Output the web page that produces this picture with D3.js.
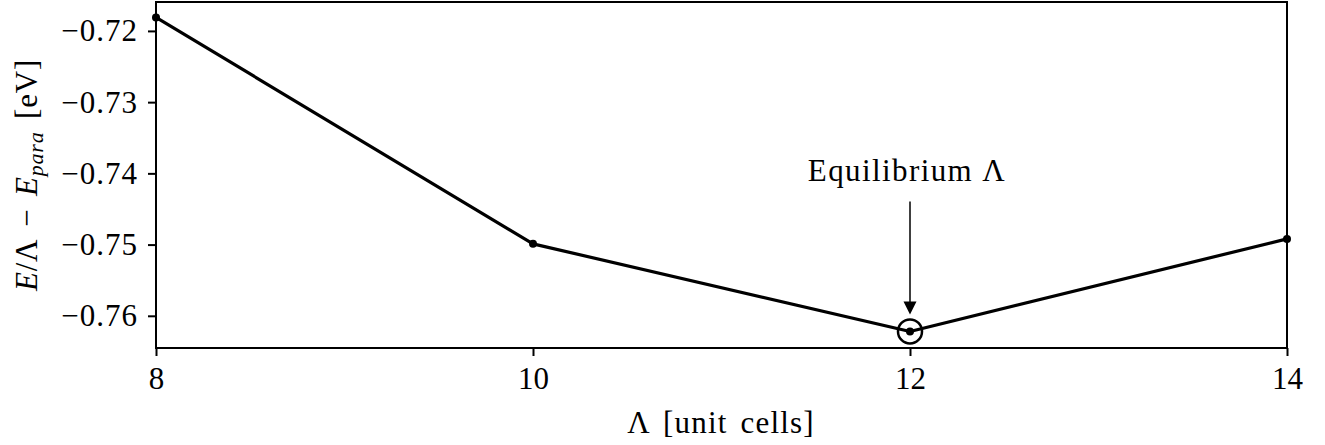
<!DOCTYPE html>
<html>
<head>
<meta charset="utf-8">
<script src="https://cdn.jsdelivr.net/npm/d3@7"></script>
</head>
<body style="margin:0; background:#fff">
<div id="chart-area"></div>
<script>
const width = 1325, height = 445;
const margin = ({top: 2, right: 38, bottom: 97, left: 156});
const serif = "Liberation Serif";

// data
const cells = [8, 10, 12, 14];
const energy = [-0.7181, -0.7499, -0.7622, -0.7492];
const xTicks = [8, 10, 12, 14];
const yTicks = [-0.72, -0.73, -0.74, -0.75, -0.76];
const yDomain = [-0.76452, -0.71594];
const equilibrium = 12;

const x = d3.scaleLinear()
    .domain([8, 14])
    .range([margin.left, width - margin.right]);

const y = d3.scaleLinear()
    .domain(yDomain)
    .range([height - margin.bottom, margin.top]);

const fmt = d => (d < 0 ? "\u2212" : "") + d3.format(".2f")(Math.abs(d));

const svg = d3.select("#chart-area").append("svg")
    .attr("width", width)
    .attr("height", height);

const xAxis = g => g
    .attr("transform", `translate(0,${height - margin.bottom})`)
    .call(d3.axisBottom(x).tickValues(xTicks).tickSize(8).tickPadding(11).tickFormat(d3.format("d")))
    .call(g => g.select(".domain").remove())
    .call(g => g.selectAll(".tick line").attr("stroke-width", 2))
    .call(g => g.selectAll(".tick text")
        .attr("font-family", serif)
        .attr("font-size", 31));

const yAxis = g => g
    .attr("transform", `translate(${margin.left},0)`)
    .call(d3.axisLeft(y).tickValues(yTicks).tickSize(8).tickPadding(10).tickFormat(fmt))
    .call(g => g.select(".domain").remove())
    .call(g => g.selectAll(".tick line").attr("stroke-width", 2))
    .call(g => g.selectAll(".tick text")
        .attr("font-family", serif)
        .attr("font-size", 31)
        .attr("letter-spacing", 1));

svg.append("g").call(xAxis);
svg.append("g").call(yAxis);

// frame
svg.append("rect")
    .attr("x", margin.left)
    .attr("y", margin.top)
    .attr("width", width - margin.left - margin.right)
    .attr("height", height - margin.top - margin.bottom)
    .attr("fill", "none")
    .attr("stroke", "#000")
    .attr("stroke-width", 2);

svg.append("clipPath").attr("id", "clip")
    .append("rect")
    .attr("x", margin.left - 6)
    .attr("y", margin.top)
    .attr("width", width - margin.left - margin.right + 12)
    .attr("height", height - margin.top - margin.bottom);

const line = d3.line()
    .x((d, i) => x(cells[i]))
    .y(d => y(d));

const plot = svg.append("g").attr("clip-path", "url(#clip)");

plot.append("path")
    .attr("d", line(energy))
    .attr("fill", "none")
    .attr("stroke", "#000")
    .attr("stroke-width", 3.2)
    .attr("stroke-linejoin", "round");

plot.selectAll("circle.pt")
    .data(energy)
    .enter().append("circle")
    .attr("class", "pt")
    .attr("cx", (d, i) => x(cells[i]))
    .attr("cy", d => y(d))
    .attr("r", 4)
    .attr("fill", "#000");

// equilibrium marker + annotation
const eqY = y(energy[cells.indexOf(equilibrium)]);
const eqX = x(equilibrium);

svg.append("circle")
    .attr("cx", eqX)
    .attr("cy", eqY)
    .attr("r", 12)
    .attr("fill", "none")
    .attr("stroke", "#000")
    .attr("stroke-width", 2.5);

svg.append("line")
    .attr("x1", eqX).attr("x2", eqX)
    .attr("y1", eqY - 130).attr("y2", eqY - 29)
    .attr("stroke", "#000")
    .attr("stroke-width", 1.5);

svg.append("path")
    .attr("d", `M${eqX - 6.5},${eqY - 30} L${eqX + 6.5},${eqY - 30} L${eqX},${eqY - 17} Z`)
    .attr("fill", "#000");

svg.append("text")
    .attr("x", eqX - 3)
    .attr("y", eqY - 150)
    .attr("text-anchor", "middle")
    .attr("font-family", serif)
    .attr("font-size", 31)
    .attr("letter-spacing", 1.4)
    .text("Equilibrium \u039B");

// axis labels
svg.append("text")
    .attr("x", 721)
    .attr("y", 433)
    .attr("text-anchor", "middle")
    .attr("font-family", serif)
    .attr("font-size", 31)
    .attr("letter-spacing", 1.2)
    .attr("word-spacing", 4)
    .text("\u039B [unit cells]");

const yl = svg.append("text")
    .attr("transform", `translate(37,${(margin.top + height - margin.bottom) / 2}) rotate(-90)`)
    .attr("text-anchor", "middle")
    .attr("font-family", serif)
    .attr("font-size", 31)
    .attr("letter-spacing", 0.8)
    .attr("word-spacing", 4);
yl.append("tspan").attr("font-family", serif).attr("font-style", "italic").text("E");
yl.append("tspan").attr("font-family", serif).text("/\u039B \u2212 ");
yl.append("tspan").attr("font-family", serif).attr("font-style", "italic").text("E");
yl.append("tspan").attr("font-family", serif).attr("font-style", "italic").attr("font-size", 22).attr("dy", 6).text("para");
yl.append("tspan").attr("font-family", serif).attr("dy", -6).text(" [eV]");
</script>
</body>
</html>
